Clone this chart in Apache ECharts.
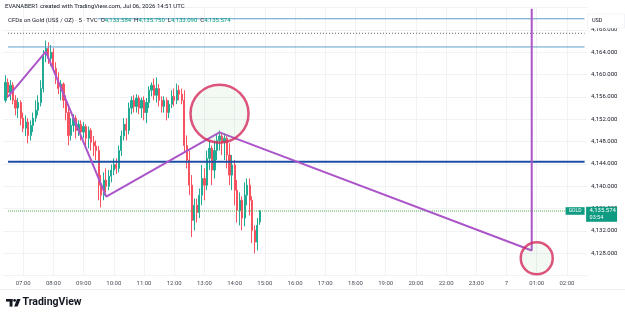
<!DOCTYPE html>
<html>
<head>
<meta charset="utf-8">
<script src="https://cdn.jsdelivr.net/npm/echarts@6/dist/echarts.min.js"></script>
<style>
  html, body { margin: 0; padding: 0; background: #fff; }
  #chart { width: 625px; height: 319px; }
</style>
</head>
<body>
<div id="chart"></div>
<script>
// time scale: 5 minute slots from 06:20, 21:00 hour is the daily break
const hourLabels = ['07:00', '08:00', '09:00', '10:00', '11:00', '12:00', '13:00', '14:00', '15:00', '16:00',
  '17:00', '18:00', '19:00', '20:00', '22:00', '23:00', '7', '01:00', '02:00'];
const firstHourSlot = 8;
const slotsPerHour = 12;
const slotCount = 233;

// 5m candles [open, close, low, high], first one at 06:25
const candleStartSlot = 1;
const candles = [
  [4155.4, 4158.6, 4155.0, 4159.9], [4158.6, 4156.8, 4155.8, 4159.3], [4156.8, 4158.1, 4155.4, 4159.0],
  [4158.1, 4155.4, 4154.7, 4158.6], [4155.4, 4154.0, 4152.7, 4156.3], [4154.0, 4155.0, 4152.2, 4155.8],
  [4155.0, 4152.2, 4150.9, 4155.4], [4152.2, 4150.4, 4149.7, 4153.2], [4150.4, 4151.5, 4149.0, 4152.7],
  [4151.5, 4149.1, 4147.7, 4152.2], [4149.1, 4150.9, 4148.2, 4151.8], [4150.9, 4152.2, 4149.7, 4153.2],
  [4152.2, 4153.6, 4151.5, 4155.4], [4153.6, 4155.0, 4152.7, 4156.3], [4155.0, 4157.5, 4154.3, 4159.0],
  [4157.5, 4163.5, 4156.8, 4164.4], [4163.5, 4164.7, 4162.2, 4166.1], [4164.7, 4162.9, 4161.9, 4165.8],
  [4162.9, 4164.0, 4161.5, 4165.3], [4164.0, 4161.1, 4160.4, 4164.7], [4161.1, 4159.3, 4158.3, 4162.2],
  [4159.3, 4157.5, 4156.5, 4160.4], [4157.5, 4158.3, 4155.4, 4159.0], [4158.3, 4155.4, 4154.0, 4158.6],
  [4155.4, 4153.2, 4151.8, 4156.3], [4153.2, 4149.1, 4147.3, 4154.0], [4149.1, 4150.9, 4148.2, 4152.2],
  [4150.9, 4152.2, 4149.7, 4152.9], [4152.2, 4150.0, 4148.6, 4152.7], [4150.0, 4151.1, 4149.0, 4151.8],
  [4151.1, 4149.7, 4148.2, 4151.8], [4149.7, 4150.7, 4148.6, 4151.5], [4150.7, 4148.6, 4147.2, 4151.1],
  [4148.6, 4150.0, 4146.8, 4150.7], [4150.0, 4147.9, 4146.4, 4150.4], [4147.9, 4147.2, 4145.4, 4149.0],
  [4147.2, 4146.4, 4144.7, 4148.2], [4146.4, 4140.2, 4137.5, 4147.2], [4140.2, 4138.4, 4136.2, 4142.0],
  [4138.4, 4141.1, 4137.5, 4142.5], [4141.1, 4140.0, 4138.9, 4143.2], [4140.0, 4141.8, 4139.3, 4142.9],
  [4141.8, 4142.9, 4140.7, 4143.9], [4142.9, 4143.9, 4142.0, 4145.0], [4143.9, 4143.2, 4142.2, 4145.0],
  [4143.2, 4146.4, 4142.5, 4147.3], [4146.4, 4149.0, 4145.4, 4150.0], [4149.0, 4151.1, 4148.2, 4152.2],
  [4151.1, 4150.0, 4148.2, 4152.2], [4150.0, 4154.0, 4149.3, 4155.0], [4154.0, 4155.4, 4152.9, 4156.1],
  [4155.4, 4154.3, 4153.2, 4156.3], [4154.3, 4155.8, 4153.2, 4156.5], [4155.8, 4154.0, 4152.9, 4156.3],
  [4154.0, 4155.4, 4152.2, 4155.9], [4155.4, 4153.2, 4151.8, 4156.1], [4153.2, 4155.0, 4151.3, 4155.8],
  [4155.0, 4157.2, 4154.0, 4157.9], [4157.2, 4158.1, 4156.1, 4158.6], [4158.1, 4156.3, 4155.4, 4159.3],
  [4156.3, 4157.5, 4155.0, 4159.5], [4157.5, 4155.4, 4154.3, 4158.3], [4155.4, 4154.3, 4153.2, 4156.1],
  [4154.3, 4155.4, 4153.2, 4156.1], [4155.4, 4153.2, 4151.8, 4155.9], [4153.2, 4154.7, 4152.2, 4155.4],
  [4154.7, 4156.1, 4154.0, 4157.2], [4156.1, 4155.4, 4154.3, 4157.5], [4155.4, 4157.2, 4154.7, 4158.4],
  [4157.2, 4156.5, 4155.4, 4158.1], [4156.5, 4155.4, 4154.7, 4157.5], [4155.4, 4147.3, 4146.1, 4157.2],
  [4147.3, 4144.7, 4143.2, 4149.1], [4144.7, 4140.2, 4138.4, 4146.4], [4140.2, 4133.9, 4130.9, 4142.0],
  [4133.9, 4136.6, 4132.1, 4137.8], [4136.6, 4135.3, 4133.5, 4137.8], [4135.3, 4138.4, 4134.3, 4139.6],
  [4138.4, 4141.4, 4136.6, 4143.8], [4141.4, 4140.2, 4137.5, 4143.2], [4140.2, 4145.0, 4139.3, 4146.4],
  [4145.0, 4146.8, 4142.9, 4148.2], [4146.8, 4142.9, 4140.2, 4147.3], [4142.9, 4146.4, 4141.4, 4148.2],
  [4146.4, 4148.2, 4144.7, 4149.3], [4148.2, 4149.0, 4146.4, 4150.0], [4149.0, 4147.9, 4145.6, 4149.7],
  [4147.9, 4148.6, 4144.7, 4149.5], [4148.6, 4145.6, 4143.2, 4149.1], [4145.6, 4142.0, 4140.2, 4147.7],
  [4142.0, 4143.8, 4139.3, 4145.6], [4143.8, 4139.3, 4136.6, 4144.7], [4139.3, 4135.7, 4133.5, 4141.1],
  [4135.7, 4137.5, 4133.0, 4138.9], [4137.5, 4134.3, 4132.1, 4138.2], [4134.3, 4138.4, 4132.8, 4140.7],
  [4138.4, 4140.2, 4136.6, 4141.4], [4140.2, 4137.5, 4134.8, 4141.4], [4137.5, 4132.1, 4129.8, 4138.2],
  [4132.1, 4130.0, 4128.0, 4133.0], [4130.0, 4133.0, 4128.5, 4134.3], [4133.584, 4135.574, 4133.090, 4135.750]
];
const lastPrice = 4135.574;
const lastCountdown = '03:54';

// horizontal drawings (two light blue rays, dotted grey, thick blue)
const levelPrices = [4170.0, 4167.4, 4164.95, 4144.4];
const levelStart = 2;
const levelEnd = 231;

// purple path drawing
const pathSlots = [2, 17, 41, 86, 210, 210];
const pathPrices = [4156.05, 4164.1, 4138.15, 4149.65, 4128.5, 4171.8];

// red circles
const circleSlots = [86, 212];
const circlePrices = [4153.0, 4127.1];

const categories = [];
for (let i = 0; i < slotCount; i++) {
  const k = i - firstHourSlot;
  const lab = (k >= 0 && k % slotsPerHour === 0) ? hourLabels[k / slotsPerHour] : undefined;
  categories.push(lab || '');
}

const fmt = v => v.toLocaleString('en-US', {minimumFractionDigits: 3, maximumFractionDigits: 3});
const UP = '#22ab94', DOWN = '#f7525f';
const FONT = 'Roboto';

const levelStyles = [
  {color: '#5d9fc9', width: 1, type: 'solid'},
  {color: '#666', width: 1, type: [1, 2]},
  {color: '#5d9fc9', width: 1, type: 'solid'},
  {color: '#1c4fa5', width: 2, type: 'solid'}
];

const chart = echarts.init(document.getElementById('chart'));

const series = [{
  type: 'candlestick',
  data: candles.map((c, i) => [candleStartSlot + i].concat(c)),
  encode: {x: 0, y: [1, 2, 3, 4]},
  barWidth: 1.7,
  itemStyle: {color: UP, color0: DOWN, borderColor: UP, borderColor0: DOWN, borderWidth: 1},
  z: 2
}];

levelPrices.forEach((p, i) => {
  series.push({
    type: 'line',
    data: [[levelStart, p], [levelEnd, p]],
    symbol: 'none',
    lineStyle: levelStyles[i],
    z: 3,
    silent: true
  });
});

series.push({
  type: 'line',
  data: [[levelStart, lastPrice], [levelEnd, lastPrice]],
  symbol: 'none',
  lineStyle: {color: '#4caf50', width: 1, type: [1, 1]},
  z: 3,
  silent: true
});

series.push({
  type: 'line',
  data: pathSlots.map((s, i) => [s, pathPrices[i]]),
  symbol: 'none',
  lineStyle: {color: '#ab55c9', width: 2},
  z: 4,
  silent: true
});

series.push({
  type: 'scatter',
  data: [
    {value: [circleSlots[0], circlePrices[0]], symbolSize: 58},
    {value: [circleSlots[1], circlePrices[1]], symbolSize: 32}
  ],
  symbol: 'circle',
  clip: false,
  itemStyle: {color: 'rgba(140,200,140,0.13)', borderColor: '#d42a5b', borderWidth: 2.5},
  z: 5,
  silent: true
});

const option = {
  animation: false,
  grid: {left: 1.8, right: 37.9, top: 7.6, bottom: 43.4},
  xAxis: {
    type: 'category',
    data: categories,
    boundaryGap: false,
    axisLine: {show: false},
    axisTick: {show: false},
    axisLabel: {interval: 0, fontSize: 6, color: '#4a4e5a', margin: 5, fontFamily: FONT},
    splitLine: {show: true, interval: (i) => categories[i] !== '', lineStyle: {color: '#f0f2f6', width: 1}}
  },
  yAxis: {
    type: 'value',
    position: 'right',
    min: 4124,
    max: 4172,
    interval: 4,
    axisLine: {show: false},
    axisTick: {show: false},
    axisLabel: {
      margin: 4, fontSize: 6, color: '#131722', fontFamily: FONT,
      showMinLabel: false, showMaxLabel: false,
      formatter: v => fmt(v)
    },
    splitLine: {lineStyle: {color: '#f0f2f6', width: 1}}
  },
  series: series
};
chart.setOption(option);

const py = chart.convertToPixel({yAxisIndex: 0}, lastPrice);
const px = chart.convertToPixel({xAxisIndex: 0}, levelEnd);

chart.setOption({
  graphic: [
    {
      type: 'text', left: 5, top: 3,
      style: {text: 'EVANABER1 created with TradingView.com, Jul 06, 2026 14:51 UTC', fontSize: 6, fill: '#131722', fontFamily: FONT}
    },
    {
      type: 'text', left: 8, top: 17, z: 10,
      style: {
        text: '{t|CFDs on Gold (US$ / OZ) · 5 · TVC}  {k|O}{v|4,133.584}  {k|H}{v|4,135.750}  {k|L}{v|4,133.090}  {k|C}{v|4,135.574}',
        fontSize: 6, fontFamily: FONT,
        rich: {
          t: {fontSize: 6, fill: '#131722', backgroundColor: '#fff', fontFamily: FONT},
          k: {fontSize: 6, fill: '#131722', fontFamily: FONT},
          v: {fontSize: 6, fill: '#089981', fontFamily: FONT}
        }
      }
    },
    {
      type: 'rect', shape: {x: 587.5, y: 14, width: 37, height: 14}, z: 10,
      style: {fill: '#fff', stroke: '#e6e9ef', lineWidth: 0.5}
    },
    {
      type: 'text', left: 592, top: 18, z: 11,
      style: {text: 'USD', fontSize: 5.5, fill: '#131722', fontFamily: FONT}
    },
    // GOLD series tag inside the pane, price tag on the scale
    {
      type: 'rect', shape: {x: px - 19, y: py - 3.8, width: 19, height: 7.6}, z: 10,
      style: {fill: '#0f9b82'}
    },
    {
      type: 'text', x: px - 9.5, y: py, z: 11,
      style: {text: 'GOLD', fontSize: 5, fill: '#fff', align: 'center', verticalAlign: 'middle', fontFamily: FONT}
    },
    {
      type: 'rect', shape: {x: px + 1.5, y: py - 4.2, width: 31, height: 15}, z: 10,
      style: {fill: '#0f9b82'}
    },
    {
      type: 'text', x: px + 5, y: py, z: 11,
      style: {text: fmt(lastPrice), fontSize: 6, fill: '#fff', verticalAlign: 'middle', fontFamily: FONT}
    },
    {
      type: 'text', x: px + 5, y: py + 6.3, z: 11,
      style: {text: lastCountdown, fontSize: 5.5, fill: '#fff', verticalAlign: 'middle', fontFamily: FONT}
    },
    {
      type: 'line', shape: {x1: 0, y1: 289.5, x2: 625, y2: 289.5},
      style: {stroke: '#eef0f4', lineWidth: 1}
    },
    // TradingView mark
    {type: 'rect', shape: {x: 6, y: 299, width: 6.5, height: 2.6}, style: {fill: '#131722'}},
    {type: 'rect', shape: {x: 9.6, y: 299, width: 2.9, height: 7.6}, style: {fill: '#131722'}},
    {type: 'circle', shape: {cx: 14.6, cy: 300.4, r: 1.4}, style: {fill: '#131722'}},
    {type: 'polygon', shape: {points: [[17, 299], [20.6, 299], [17.6, 306.6], [14.2, 306.6]]}, style: {fill: '#131722'}},
    {
      type: 'text', left: 22.5, top: 297,
      style: {text: 'TradingView', fontSize: 10.5, fontWeight: 'bold', fill: '#131722', fontFamily: FONT}
    }
  ]
});
</script>
</body>
</html>
